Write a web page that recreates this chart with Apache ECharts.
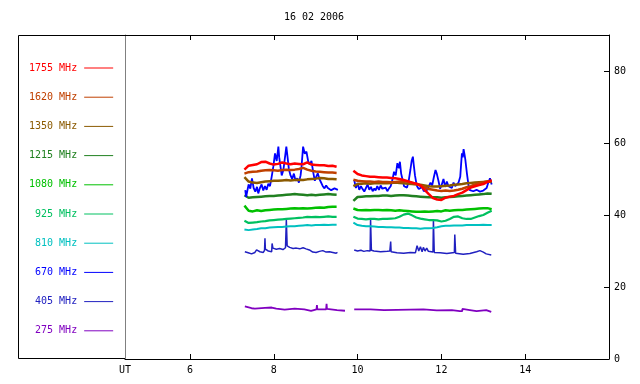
<!DOCTYPE html>
<html><head><meta charset="utf-8">
<script src="https://cdn.jsdelivr.net/npm/echarts@6/dist/echarts.min.js"></script>
<style>html,body{margin:0;padding:0;background:#fff}#c{width:640px;height:384px}</style>
</head><body><div id="c"></div>
<script>
const TITLE = '16 02 2006';
const X_MIN = 4.45, X_MAX = 16;
const X_TICKS = [6, 8, 10, 12, 14];
const X_LABELS = [4.45, 6, 8, 10, 12, 14];
const Y_TICKS = [0, 20, 40, 60, 80];
const GAP_T = 9.7;

const names = ['1755 MHz','1620 MHz','1350 MHz','1215 MHz','1080 MHz','925 MHz','810 MHz','670 MHz','405 MHz','275 MHz'];
const colors = ['#ff0000','#c04000','#8b5a00','#208020','#00c000','#00c060','#00c0c0','#0000ff','#2020c0','#8000c0'];

// common sample times (UT hours) for the smoother channels
const T1 = [7.3,7.4,7.5,7.6,7.7,7.8,7.9,8.0,8.1,8.2,8.3,8.4,8.5,8.6,8.7,8.8,8.9,9.0,9.1,9.2,9.3,9.4,9.5];
const T2 = [9.9,10.0,10.1,10.2,10.3,10.4,10.5,10.6,10.7,10.8,10.9,11.0,11.1,11.2,11.3,11.4,11.5,11.6,11.7,11.8,11.9,12.0,12.1,12.2,12.3,12.4,12.5,12.6,12.7,12.8,12.9,13.0,13.1,13.2];

const f1755_a = [52.6,53.7,53.9,54.1,54.7,54.8,54.3,54.0,54.2,54.6,54.3,54.1,54.3,54.2,54.1,54.6,54.0,53.9,53.8,53.8,53.6,53.7,53.4];
const f1755_b = [52.3,51.4,51.0,50.8,50.6,50.6,50.5,50.4,50.4,50.3,50.2,50.0,49.7,49.4,49.0,48.7,48.2,47.0,45.8,44.7,44.3,44.2,44.8,45.1,45.3,45.8,46.2,46.9,47.6,48.0,48.3,48.6,49.2,49.6];
const f1620_a = [51.5,51.9,52.0,52.1,52.3,52.4,52.5,52.4,52.3,52.5,52.6,52.5,52.6,52.8,53.1,52.6,52.3,52.1,52.0,51.9,51.8,51.8,51.7];
const f1620_b = [49.8,49.5,49.4,49.3,49.3,49.2,49.3,49.2,49.2,49.1,49.2,49.3,49.4,49.2,49.0,48.7,48.2,47.7,47.2,47.0,46.8,46.7,46.8,46.7,46.8,47.0,47.3,47.7,48.0,48.5,48.8,49.1,49.3,49.5];
const f1350_a = [50.5,49.3,49.0,48.9,49.1,49.3,49.4,49.5,49.5,49.6,49.7,49.6,49.7,49.8,49.7,49.9,50.0,50.1,50.3,50.2,50.0,50.0,49.9];
const f1350_b = [48.0,48.6,48.7,48.8,48.7,48.8,48.8,48.9,48.8,48.9,49.0,48.9,48.8,48.7,48.6,48.5,48.4,48.2,48.0,47.9,47.9,48.0,48.1,48.2,48.4,48.5,48.6,48.8,48.9,49.0,49.1,49.2,49.3,49.2];
const f1215_a = [45.5,44.8,44.9,45.0,45.1,45.2,45.3,45.3,45.4,45.5,45.6,45.7,45.8,45.7,45.6,45.5,45.6,45.5,45.6,45.7,45.8,45.7,45.6];
const f1215_b = [43.9,45.0,45.1,45.2,45.2,45.3,45.3,45.4,45.4,45.3,45.4,45.5,45.5,45.4,45.3,45.2,45.1,45.0,44.9,44.9,44.9,44.8,44.9,45.0,45.1,45.2,45.3,45.4,45.5,45.6,45.7,45.8,46.0,45.9];
const f1080_a = [42.6,41.2,41.0,41.3,41.1,41.3,41.4,41.5,41.6,41.6,41.7,41.8,41.9,41.8,41.9,41.8,41.9,42.0,42.1,42.0,42.2,42.3,42.3];
const f1080_b = [41.8,41.4,41.3,41.4,41.3,41.4,41.4,41.3,41.4,41.3,41.2,41.3,41.2,41.1,41.0,40.9,40.9,41.0,40.9,41.0,41.1,41.0,41.3,41.2,41.3,41.4,41.4,41.5,41.6,41.7,41.8,41.9,41.9,41.6];
const f925_a = [38.4,37.8,37.9,38.0,38.2,38.3,38.5,38.6,38.7,38.8,38.9,39.0,39.1,39.2,39.3,39.5,39.4,39.5,39.4,39.5,39.6,39.5,39.5];
const f925_b = [39.5,39.0,38.9,38.8,38.9,38.9,38.8,38.9,38.9,39.0,39.1,39.5,40.1,40.4,39.9,39.3,39.0,38.8,38.6,38.6,38.5,38.2,38.4,38.9,39.5,39.6,39.1,38.9,38.9,39.3,39.7,40.0,40.6,41.2];
const f810_a = [36.0,35.8,36.0,36.1,36.3,36.3,36.5,36.6,36.7,36.7,36.8,36.9,36.9,37.0,37.1,37.2,37.1,37.2,37.2,37.3,37.2,37.3,37.3];
const f810_b = [37.9,37.2,37.0,36.9,36.9,36.8,36.7,36.7,36.6,36.6,36.5,36.5,36.4,36.4,36.3,36.3,36.2,36.3,36.3,36.4,36.6,36.9,37.0,37.0,37.1,37.1,37.1,37.2,37.2,37.2,37.2,37.3,37.2,37.2];

// channels with their own sample times
const t670_a = [7.32,7.34,7.40,7.44,7.48,7.52,7.56,7.60,7.63,7.67,7.71,7.75,7.79,7.83,7.87,7.91,7.95,7.99,8.03,8.07,8.11,8.13,8.16,8.19,8.23,8.27,8.30,8.33,8.36,8.40,8.44,8.48,8.52,8.56,8.60,8.64,8.66,8.70,8.74,8.78,8.82,8.86,8.90,8.94,8.98,9.01,9.05,9.09,9.13,9.17,9.21,9.25,9.29,9.37,9.45,9.53];
const v670_a = [46.9,45.0,48.5,47.3,50.2,47.5,46.5,47.8,46.0,47.5,48.5,46.8,48.0,47.0,48.7,48.0,50.6,53.5,57.1,55.0,59.0,56.0,53.5,51.0,52.5,53.0,59.0,56.0,52.8,51.0,50.0,51.5,49.5,50.2,49.0,51.0,53.0,59.0,57.0,57.6,55.0,54.0,55.0,52.0,49.5,50.5,51.6,50.0,49.5,48.0,47.4,48.2,47.5,46.9,47.4,47.0];
const t670_b = [9.92,9.96,10.00,10.04,10.08,10.12,10.16,10.20,10.24,10.28,10.32,10.36,10.40,10.43,10.47,10.51,10.55,10.59,10.63,10.67,10.71,10.75,10.79,10.83,10.87,10.91,10.95,10.99,11.01,11.04,11.07,11.11,11.15,11.18,11.22,11.26,11.29,11.32,11.34,11.37,11.40,11.42,11.46,11.50,11.54,11.58,11.66,11.70,11.74,11.78,11.82,11.86,11.89,11.93,11.97,12.01,12.05,12.09,12.13,12.17,12.21,12.25,12.29,12.33,12.37,12.41,12.45,12.47,12.49,12.51,12.53,12.55,12.57,12.61,12.65,12.68,12.72,12.76,12.84,12.92,13.00,13.08,13.12,13.16,13.20];
const v670_b = [49.7,47.5,48.9,47.0,48.0,47.2,46.5,47.5,48.5,47.0,47.8,46.6,47.4,46.8,48.0,47.0,48.2,47.3,46.8,47.6,46.6,47.4,48.0,49.7,52.0,51.0,54.4,53.0,54.8,51.5,50.0,48.0,47.5,47.6,49.5,52.5,55.0,56.2,54.0,51.0,49.0,48.0,47.2,46.9,47.8,46.6,47.0,48.0,49.0,48.2,50.5,52.5,51.5,49.5,47.3,48.5,50.0,47.8,49.3,48.0,48.5,47.5,49.0,48.0,48.3,49.0,50.6,54.0,57.1,56.0,58.3,57.0,55.5,51.5,48.0,46.9,47.3,46.6,47.0,46.5,46.8,47.5,49.0,50.2,48.5];
const t405_a = [7.31,7.39,7.47,7.55,7.59,7.67,7.75,7.78,7.79,7.80,7.87,7.95,7.96,7.98,8.06,8.14,8.22,8.28,8.30,8.32,8.38,8.46,8.54,8.62,8.70,8.77,8.85,8.93,9.01,9.09,9.17,9.25,9.33,9.41,9.49,9.52];
const v405_a = [29.8,29.5,29.2,29.6,30.3,29.8,29.6,30.2,33.5,30.5,30.0,29.8,32.1,30.8,30.5,30.7,30.4,30.9,38.6,31.4,31.0,30.7,30.8,30.6,30.9,30.6,30.3,29.7,29.6,29.9,30.1,29.7,29.8,29.6,29.4,29.6];
const t405_b = [9.92,10.00,10.08,10.15,10.23,10.30,10.31,10.33,10.39,10.55,10.71,10.77,10.79,10.80,10.94,11.10,11.26,11.38,11.42,11.46,11.50,11.54,11.57,11.61,11.65,11.69,11.73,11.80,11.81,11.83,11.97,12.13,12.31,12.32,12.34,12.52,12.68,12.84,12.92,13.00,13.07,13.19];
const v405_b = [30.3,30.0,30.2,29.9,30.1,30.0,38.8,30.2,30.0,29.8,29.9,30.0,32.6,29.8,29.5,29.4,29.6,29.5,31.5,30.0,31.2,29.8,31.0,30.0,30.8,29.9,30.4,29.7,38.6,29.6,29.5,29.3,29.6,34.6,29.4,29.1,29.3,29.8,30.1,29.7,29.2,28.9];
const t275_a = [7.31,7.35,7.47,7.55,7.59,7.79,7.83,7.95,7.98,8.06,8.26,8.28,8.50,8.54,8.73,8.77,8.89,8.93,9.02,9.03,9.04,9.25,9.26,9.27,9.29,9.51];
const v275_a = [14.6,14.1,14.0,14.1,14.2,14.1,14.3,14.3,14.0,13.7,13.7,14.0,14.0,13.8,13.8,13.4,13.5,13.8,13.8,15.0,13.8,13.9,15.3,13.9,13.6,13.4];
const t275_b = [9.92,10.31,10.35,10.63,10.67,11.57,11.61,11.89,11.93,12.25,12.28,12.44,12.50,12.52,12.68,12.72,12.84,12.88,13.07,13.11,13.19];
const v275_b = [13.8,13.8,13.6,13.6,13.8,13.8,13.5,13.4,13.6,13.6,13.3,13.3,13.9,13.6,13.6,13.3,13.3,13.6,13.6,13.1,13.2];

function zip(ts, vs) { return ts.map((t, i) => [t, vs[i]]); }
function join(ta, va, tb, vb) { return zip(ta, va).concat([[GAP_T, null]], zip(tb, vb)); }

const seriesData = {
  '1755 MHz': join(T1, f1755_a, T2, f1755_b),
  '1620 MHz': join(T1, f1620_a, T2, f1620_b),
  '1350 MHz': join(T1, f1350_a, T2, f1350_b),
  '1215 MHz': join(T1, f1215_a, T2, f1215_b),
  '1080 MHz': join(T1, f1080_a, T2, f1080_b),
  '925 MHz': join(T1, f925_a, T2, f925_b),
  '810 MHz': join(T1, f810_a, T2, f810_b),
  '670 MHz': join(t670_a, v670_a, t670_b, v670_b),
  '405 MHz': join(t405_a, v405_a, t405_b, v405_b),
  '275 MHz': join(t275_a, v275_a, t275_b, v275_b)
};

const FONT = 'DejaVu Sans Mono';
const drawOrder = ['275 MHz','405 MHz','810 MHz','925 MHz','1080 MHz','1215 MHz','670 MHz','1350 MHz','1620 MHz','1755 MHz'];
const widths = {'1755 MHz':2.5,'1620 MHz':2.5,'1350 MHz':2.5,'1215 MHz':2.5,'1080 MHz':2.5,'925 MHz':2.2,'810 MHz':2,'670 MHz':1.8,'405 MHz':1.5,'275 MHz':1.8};

const series = drawOrder.map(n => ({
  name: n, type: 'line', data: seriesData[n], symbol: 'none', connectNulls: false,
  step: n === '275 MHz' ? 'end' : false,
  color: colors[names.indexOf(n)],
  lineStyle: {width: widths[n], color: colors[names.indexOf(n)]},
  emphasis: {disabled: true}
}));

const axisBase = {
  type: 'value', min: X_MIN, max: X_MAX,
  axisLine: {show: true, onZero: false, lineStyle: {color: '#000', width: 1}},
  axisTick: {show: true, inside: true, length: 5, customValues: X_TICKS, lineStyle: {color: '#000'}},
  splitLine: {show: false}
};

const chart = echarts.init(document.getElementById('c'), null, {renderer: 'canvas'});
chart.setOption({
  animation: false,
  backgroundColor: '#fff',
  title: {text: TITLE, left: 314, top: 12, textAlign: 'center', padding: 0,
    textStyle: {fontFamily: FONT, fontSize: 10, fontWeight: 'normal', color: '#000'}},
  grid: {left: 125, right: 31, top: 35, bottom: 25},
  legend: {
    orient: 'vertical', left: 29, top: 61, padding: 0, itemGap: 15.2,
    itemWidth: 29, itemHeight: 1, icon: 'rect', align: 'right', selectedMode: false,
    textStyle: {fontFamily: FONT, fontSize: 10, lineHeight: 14, padding: [0, 2, 0, 0]},
    data: names.map((n, i) => ({name: n, textStyle: {color: colors[i]}}))
  },
  xAxis: [
    Object.assign({}, axisBase, {position: 'bottom',
      axisLabel: {customValues: X_LABELS, formatter: v => (v === X_MIN ? 'UT' : String(v)),
        fontFamily: FONT, fontSize: 10, color: '#000', margin: 6}}),
    Object.assign({}, axisBase, {position: 'top', axisLabel: {show: false}})
  ],
  yAxis: [
    {type: 'value', min: 0, max: 90, position: 'right',
      axisLine: {show: true, onZero: false, lineStyle: {color: '#000', width: 1}},
      axisTick: {show: true, inside: true, length: 5, customValues: Y_TICKS, lineStyle: {color: '#000'}},
      axisLabel: {customValues: Y_TICKS, fontFamily: FONT, fontSize: 10, color: '#000', margin: 5},
      splitLine: {show: false}},
    {type: 'value', min: 0, max: 90, position: 'left',
      axisLine: {show: true, onZero: false, lineStyle: {color: '#808080', width: 1}},
      axisTick: {show: false}, axisLabel: {show: false}, splitLine: {show: false}}
  ],
  graphic: [
    {type: 'rect', shape: {x: 18.5, y: 35.5, width: 107, height: 323},
      style: {fill: 'none', stroke: '#000', lineWidth: 1}, silent: true, z: 0}
  ],
  series: series
});
</script></body></html>
